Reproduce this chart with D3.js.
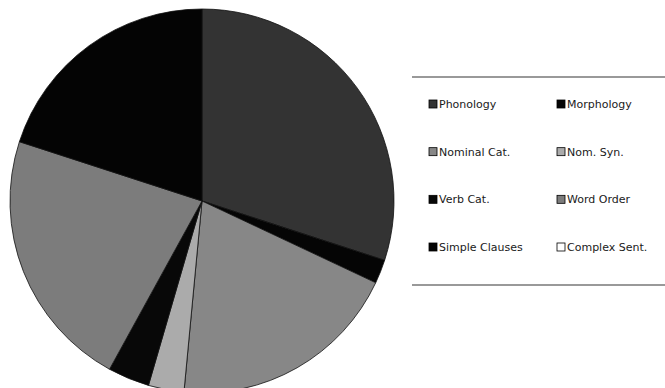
<!DOCTYPE html>
<html>
<head>
<meta charset="utf-8">
<script src="https://cdn.jsdelivr.net/npm/d3@7"></script>
<style>
  body { margin: 0; background: #fff; }
  svg { display: block; }
</style>
</head>
<body>
<svg id="chart"></svg>
<script>
const categories = ["Phonology", "Morphology", "Nominal Cat.", "Nom. Syn.",
  "Verb Cat.", "Word Order", "Simple Clauses", "Complex Sent."];
const shares = [30, 2, 19.5, 3, 3.5, 22, 20, 0];
// grey tones as they came out of the printed/scanned original
const fills = ["#333333", "#050505", "#878787", "#ababab",
  "#080808", "#7c7c7c", "#040404", "#ffffff"];

const width = 665, height = 388;
const cx = 202, cy = 201, radius = 192;

const svg = d3.select("#chart").attr("width", width).attr("height", height);

const data = categories.map((name, i) => ({ name, value: shares[i], fill: fills[i] }));

const pie = d3.pie().sort(null).value((d) => d.value);
const arc = d3.arc().innerRadius(0).outerRadius(radius);

const pieGroup = svg.append("g").attr("transform", `translate(${cx},${cy})`);

pieGroup.selectAll("path")
  .data(pie(data).filter((d) => d.data.value > 0))
  .join("path")
  .attr("d", arc)
  .attr("fill", (d) => d.data.fill)
  .attr("stroke", "#111")
  .attr("stroke-width", 0.8);

// legend box (only top and bottom rules are drawn)
const legend = svg.append("g").attr("font-family", "DejaVu Sans, Verdana, sans-serif")
  .attr("font-size", 11);

const boxX = 412, boxRight = 665, boxTop = 77, boxBottom = 285;
[boxTop, boxBottom].forEach((y) => {
  legend.append("line")
    .attr("x1", boxX).attr("x2", boxRight)
    .attr("y1", y).attr("y2", y)
    .attr("stroke", "#777").attr("stroke-width", 1.5);
});

const colX = d3.scalePoint().domain([0, 1]).range([429, 557]);
const rowY = d3.scalePoint().domain([0, 1, 2, 3]).range([104, 247]);

const items = legend.selectAll("g.item")
  .data(data)
  .join("g")
  .attr("class", "item")
  .attr("transform", (d, i) => `translate(${colX(i % 2)},${rowY(Math.floor(i / 2))})`);

items.append("rect")
  .attr("x", 0).attr("y", -4)
  .attr("width", 8).attr("height", 8)
  .attr("fill", (d) => d.fill)
  .attr("stroke", "#000")
  .attr("stroke-width", 0.8);

items.append("text")
  .attr("x", 10)
  .attr("dy", "0.35em")
  .attr("fill", "#1a1a1a")
  .text((d) => d.name);
</script>
</body>
</html>
